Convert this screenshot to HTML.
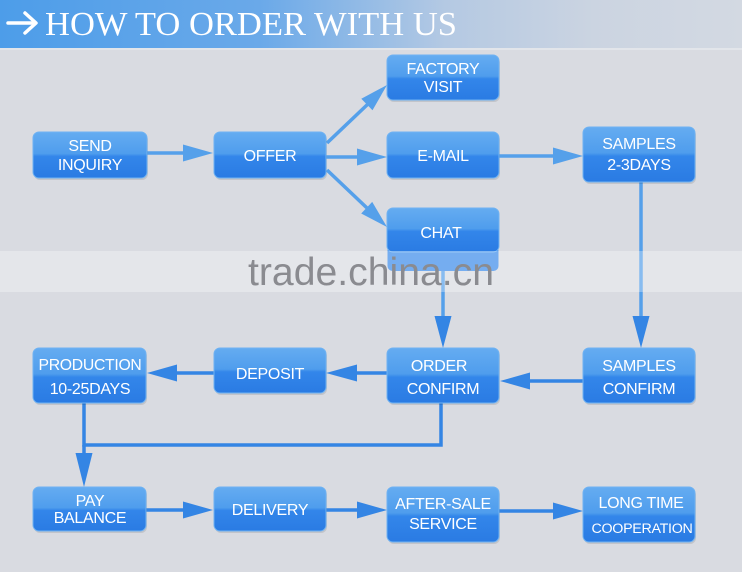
<!DOCTYPE html>
<html><head><meta charset="utf-8"><style>
html,body{margin:0;padding:0;background:#d9dbe1;}
svg{display:block;}
.bt{font-family:"Liberation Sans",sans-serif;font-size:16px;fill:#fff;text-anchor:middle;letter-spacing:-0.3px;}
</style></head><body>
<svg width="742" height="572" viewBox="0 0 742 572" xmlns="http://www.w3.org/2000/svg">
<defs>
<linearGradient id="hdr" x1="0" y1="0" x2="1" y2="0">
<stop offset="0" stop-color="#4d9de9"/>
<stop offset="0.35" stop-color="#6aa9e9"/>
<stop offset="0.6" stop-color="#b4c9e3"/>
<stop offset="0.8" stop-color="#cbd4e1"/>
<stop offset="1" stop-color="#d3d9e2"/>
</linearGradient>
<linearGradient id="box" x1="0" y1="0" x2="0" y2="1">
<stop offset="0" stop-color="#65acf1"/>
<stop offset="0.47" stop-color="#4f9ded"/>
<stop offset="0.53" stop-color="#3386ea"/>
<stop offset="1" stop-color="#2a7be3"/>
</linearGradient>
</defs>
<rect x="0" y="0" width="742" height="572" fill="#d9dbe1"/>
<!-- header -->
<rect x="0" y="0" width="742" height="48" fill="url(#hdr)"/>
<rect x="0" y="48" width="742" height="2" fill="#e2e5ea"/>
<g stroke="#fff" stroke-width="3.5" fill="none" stroke-linecap="round" stroke-linejoin="round">
<line x1="8" y1="23" x2="35" y2="23"/>
<polyline points="25,13 36,23 25,33"/>
</g>
<text x="45" y="35" font-family="'Liberation Serif',serif" font-size="34" fill="#fff" textLength="412" lengthAdjust="spacingAndGlyphs">HOW TO ORDER WITH US</text>

<!-- connectors upper (light) -->
<g stroke="#55a0ea" stroke-width="3.5" fill="none">
<line x1="147" y1="153" x2="186" y2="153"/>
<line x1="327" y1="143" x2="368" y2="104"/>
<line x1="326" y1="157" x2="360" y2="157"/>
<line x1="327" y1="170" x2="367" y2="208"/>
<line x1="499" y1="156" x2="556" y2="156"/>
<line x1="641" y1="182" x2="641" y2="318"/>
<line x1="443" y1="270" x2="443" y2="318"/>
</g>
<g fill="#55a0ea">
<polygon points="213,153 183,144.5 183,161.5"/>
<polygon points="387,85 361.3,98.8 372.5,110.2"/>
<polygon points="387,157 357,148.5 357,165.5"/>
<polygon points="387,227 361.2,213.5 372.2,201.9"/>
<polygon points="583,156 553,147.5 553,164.5"/>
</g>
<g fill="#3485e4">
<polygon points="641,348 632.5,316 649.5,316"/>
<polygon points="443,348 434.5,316 451.5,316"/>
</g>
<!-- connectors lower (dark) -->
<g stroke="#3485e4" stroke-width="3.5" fill="none">
<line x1="583" y1="381" x2="528" y2="381"/>
<line x1="387" y1="373" x2="355" y2="373"/>
<line x1="214" y1="373" x2="175" y2="373"/>
<polyline points="84,403 84,445 441,445 441,403"/>
<line x1="84" y1="445" x2="84" y2="456"/>
<line x1="146" y1="510" x2="185" y2="510"/>
<line x1="326" y1="510" x2="360" y2="510"/>
<line x1="499" y1="511" x2="556" y2="511"/>
</g>
<g fill="#3485e4">
<polygon points="500,381 530,372.5 530,389.5"/>
<polygon points="326,373 357,364.5 357,381.5"/>
<polygon points="147,373 177,364.5 177,381.5"/>
<polygon points="84,487 75.5,453 92.5,453"/>
<polygon points="213,510 183,501.5 183,518.5"/>
<polygon points="387,510 357,501.5 357,518.5"/>
<polygon points="583,511 553,502.5 553,519.5"/>
</g>

<!-- boxes -->
<g fill="rgba(0,0,0,0.10)">
<rect x="34" y="134" width="114" height="46" rx="6"/>
<rect x="215" y="134" width="112" height="46" rx="6"/>
<rect x="388" y="57" width="112" height="45" rx="6"/>
<rect x="388" y="134" width="112" height="46" rx="6"/>
<rect x="584" y="129" width="112" height="55" rx="6"/>
<rect x="34" y="350" width="113" height="55" rx="6"/>
<rect x="215" y="350" width="112" height="45" rx="6"/>
<rect x="388" y="350" width="112" height="55" rx="6"/>
<rect x="584" y="350" width="112" height="55" rx="6"/>
<rect x="34" y="489" width="113" height="44" rx="6"/>
<rect x="215" y="489" width="112" height="44" rx="6"/>
<rect x="388" y="489" width="112" height="55" rx="6"/>
<rect x="584" y="489" width="112" height="55" rx="6"/>
</g>
<!-- chat extension into band -->
<rect x="387.5" y="246" width="111" height="25" rx="5" fill="#3a8aea"/>
<g fill="url(#box)" stroke="#6fb2f2" stroke-width="1">
<rect x="33" y="132" width="114" height="46" rx="6"/>
<rect x="214" y="132" width="112" height="46" rx="6"/>
<rect x="387" y="55" width="112" height="45" rx="6"/>
<rect x="387" y="132" width="112" height="46" rx="6"/>
<rect x="387" y="208" width="112" height="44" rx="6"/>
<rect x="583" y="127" width="112" height="55" rx="6"/>
<rect x="33" y="348" width="113" height="55" rx="6"/>
<rect x="214" y="348" width="112" height="45" rx="6"/>
<rect x="387" y="348" width="112" height="55" rx="6"/>
<rect x="583" y="348" width="112" height="55" rx="6"/>
<rect x="33" y="487" width="113" height="44" rx="6"/>
<rect x="214" y="487" width="112" height="44" rx="6"/>
<rect x="387" y="487" width="112" height="55" rx="6"/>
<rect x="583" y="487" width="112" height="55" rx="6"/>
</g>

<!-- box text -->
<g class="bt">
<text x="90" y="151">SEND</text>
<text x="90" y="170">INQUIRY</text>
<text x="270" y="161">OFFER</text>
<text x="443" y="74">FACTORY</text>
<text x="443" y="92">VISIT</text>
<text x="443" y="161">E-MAIL</text>
<text x="441" y="238">CHAT</text>
<text x="639" y="149">SAMPLES</text>
<text x="639" y="170">2-3DAYS</text>
<text x="90" y="370" textLength="103" lengthAdjust="spacingAndGlyphs">PRODUCTION</text>
<text x="90" y="394">10-25DAYS</text>
<text x="270" y="379">DEPOSIT</text>
<text x="439" y="371">ORDER</text>
<text x="443" y="394">CONFIRM</text>
<text x="639" y="371">SAMPLES</text>
<text x="639" y="394">CONFIRM</text>
<text x="90" y="506">PAY</text>
<text x="90" y="523">BALANCE</text>
<text x="270" y="515">DELIVERY</text>
<text x="443" y="509">AFTER-SALE</text>
<text x="443" y="529">SERVICE</text>
<text x="641" y="508">LONG TIME</text>
<text x="642" y="533" style="font-size:13.5px" textLength="101" lengthAdjust="spacingAndGlyphs">COOPERATION</text>
</g>

<!-- watermark band -->
<rect x="0" y="251" width="742" height="41" fill="rgba(255,255,255,0.3)"/>
<text x="248" y="285" font-family="'Liberation Sans',sans-serif" font-size="39" fill="#8a8b90" textLength="246" lengthAdjust="spacingAndGlyphs">trade.china.cn</text>
</svg>
</body></html>
